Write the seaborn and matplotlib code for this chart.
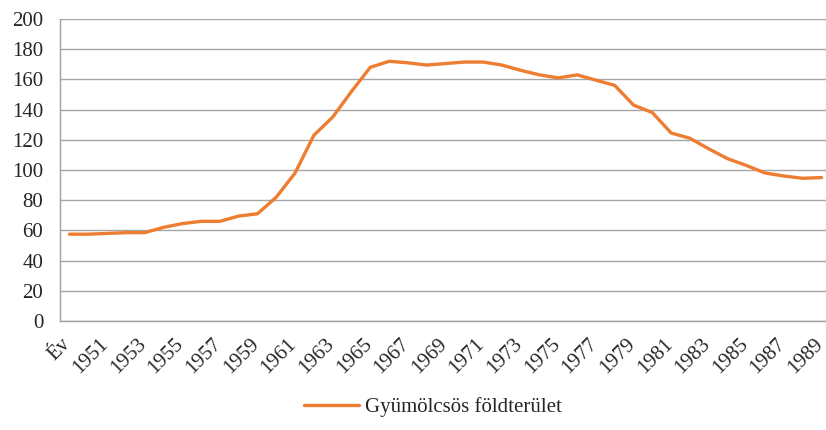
import numpy as np
import pandas as pd
import matplotlib
matplotlib.use("Agg")
import matplotlib.pyplot as plt
import matplotlib.transforms as mtransforms
import seaborn as sns

sns.set_style("white")
plt.rcParams["font.family"] = ["Liberation Serif", "DejaVu Serif"]

# =========================
# adatok
years = ["Év"] + [str(y) for y in range(1950, 1990)]
area = [57.5, 57.5, 58, 58.5, 58.5, 62, 64.5, 66, 66, 69.5,
        71, 82, 98, 123, 135, 152, 168, 172, 171, 169.5,
        170.5, 171.5, 171.5, 169.5, 166, 163, 161, 163, 159.5, 156,
        143, 138, 124.5, 121, 114, 107.5, 103, 98, 96, 94.5,
        95]
series_name = "Gyümölcsös földterület"

df = pd.DataFrame({"ev": years, "terulet": area})

# =========================
# rajz
fig = plt.figure(figsize=(8.26, 4.30), dpi=100)
ax = fig.add_axes([60 / 826, 109 / 430, 771 / 826, 302 / 430])

sns.lineplot(data=df, x="ev", y="terulet", ax=ax, color="#ED7D31",
             linewidth=2.4, label=series_name, sort=False)

ax.set_ylim(0, 200)
ax.set_yticks(range(0, 201, 20))
ax.set_xlim(-0.5, len(years) - 0.5)
ax.set_xticks(range(0, len(years), 2))
ax.set_xticklabels(years[::2], rotation=45, ha="right", va="top",
                   rotation_mode="anchor")
ax.set_xticks(np.arange(-0.5, len(years), 1), minor=True)
ax.tick_params(axis="x", which="major", length=0, labelsize=15, pad=10)
ax.tick_params(axis="x", which="minor", length=5, color="#a0a0a0", width=1, direction="out")
ax.tick_params(axis="y", length=0, labelsize=15, pad=12)
ax.yaxis.grid(True, color="#a6a6a6", linewidth=1)
ax.set_axisbelow(True)
ax.set_xlabel("")
ax.set_ylabel("")

# címkék kicsit balra, hogy az utolsó ne lógjon ki
shift = mtransforms.ScaledTranslation(-8 / 100, 0, fig.dpi_scale_trans)
for lbl in ax.get_xticklabels():
    lbl.set_transform(lbl.get_transform() + shift)

for s in ["top", "right"]:
    ax.spines[s].set_visible(False)
for s in ["left", "bottom"]:
    ax.spines[s].set_color("#a0a0a0")
    ax.spines[s].set_linewidth(1)

ax.legend_.remove()
fig.legend(loc="center", bbox_to_anchor=(433 / 826, 23 / 430), frameon=False,
           fontsize=15, handlelength=2.6, handletextpad=0.3)

fig.savefig("out.png", dpi=100)
